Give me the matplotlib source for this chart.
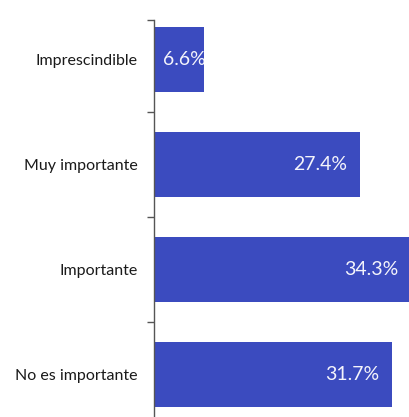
import matplotlib.pyplot as plt
from matplotlib.ticker import FixedLocator

categorias = ["Imprescindible", "Muy importante", "Importante", "No es importante"]
porcentajes = [6.6, 27.4, 34.3, 31.7]
etiquetas = ["6.6%", "27.4%", "34.3%", "31.7%"]

azul = "#3b4bbf"

plt.rcParams['font.family'] = ['Lato', 'DejaVu Sans']

fig = plt.figure(figsize=(4.09, 4.17), dpi=100)
ax = fig.add_axes([154 / 409, 0.0, 1 - 154 / 409, 1 - 20 / 417])

pos = list(range(len(categorias)))
barras = ax.barh(pos, porcentajes, height=0.62, color=azul)

ax.set_xlim(0, 34.0)
ax.set_ylim(3.405, -0.376)

# etiquetas de valor dentro de la barra, recortadas al borde de la barra
for barra, v, txt in zip(barras, porcentajes, etiquetas):
    yc = barra.get_y() + barra.get_height() / 2
    if v > 10:
        t = ax.annotate(txt, (v, yc), xytext=(-9, 0), textcoords='offset points',
                        ha='right', va='center', color='#f4f4fb', fontsize=14,
                        annotation_clip=False)
    else:
        t = ax.annotate(txt, (0, yc), xytext=(6.5, 0), textcoords='offset points',
                        ha='left', va='center', color='#f4f4fb', fontsize=14,
                        annotation_clip=False)
    t.set_clip_path(barra)

# etiquetas de categoría
ax.set_yticks(pos)
ax.set_yticklabels(categorias, fontsize=11.5, color='#1a1a1a')
ax.tick_params(axis='y', which='major', length=0, pad=12)
ax.yaxis.set_minor_locator(FixedLocator([-0.376, 0.5, 1.5, 2.5, 3.5]))
ax.tick_params(axis='y', which='minor', length=5, width=1, color='#555555')

ax.set_xticks([])
for lado in ['top', 'right', 'bottom']:
    ax.spines[lado].set_visible(False)
ax.spines['left'].set_color('#555555')
ax.spines['left'].set_linewidth(1)

fig.savefig('out.png', dpi=100)
